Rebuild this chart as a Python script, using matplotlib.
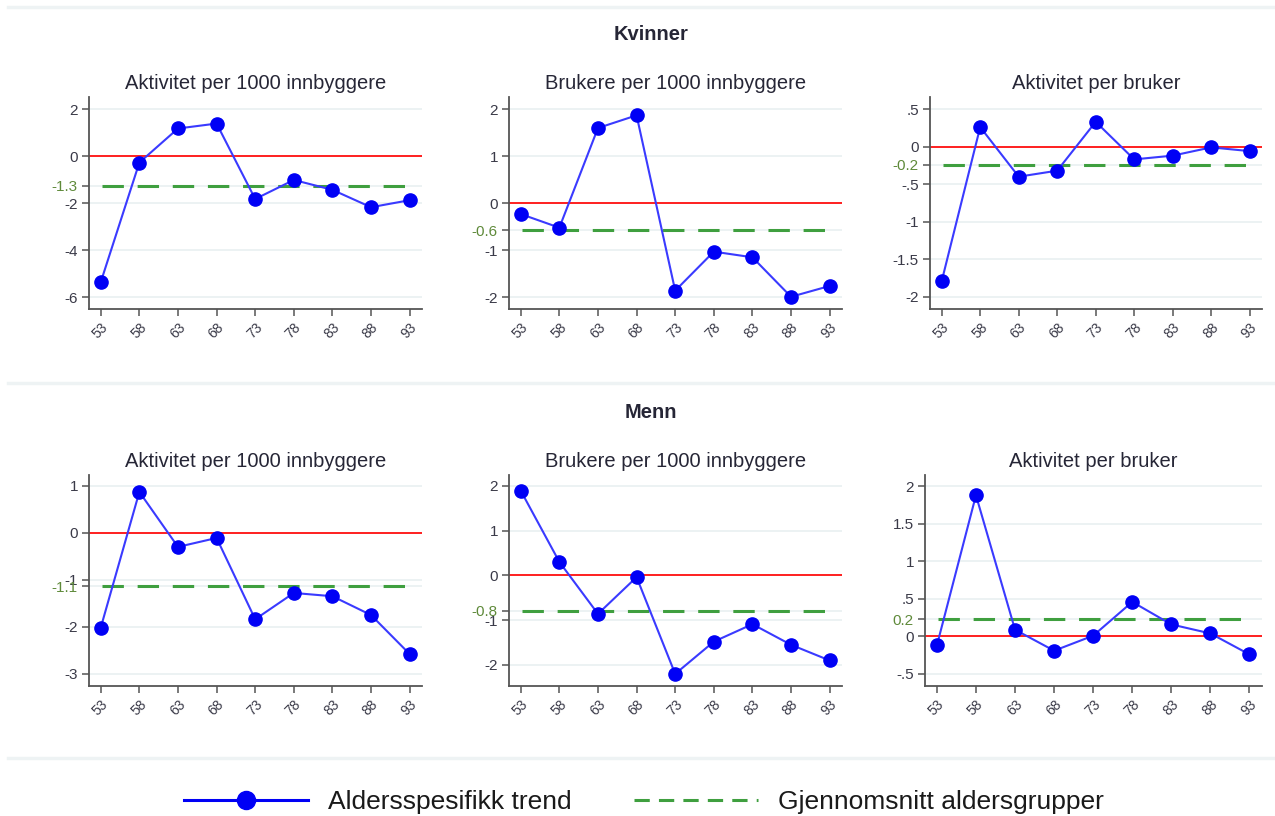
import matplotlib
matplotlib.use("Agg")
import matplotlib.pyplot as plt
from matplotlib.lines import Line2D

plt.rcParams['font.family'] = ['Liberation Sans', 'DejaVu Sans']

ages = [53, 58, 63, 68, 73, 78, 83, 88, 93]
age_labels = [str(a) for a in ages]

panel_titles = ["Aktivitet per 1000 innbyggere", "Brukere per 1000 innbyggere", "Aktivitet per bruker"]
group_titles = ["Kvinner", "Menn"]

# Kvinner
k_akt_1000 = [-5.36, -0.27, 1.18, 1.39, -1.82, -1.01, -1.43, -2.17, -1.87]
k_bru_1000 = [-0.23, -0.52, 1.60, 1.87, -1.86, -1.03, -1.15, -1.99, -1.76]
k_akt_bruker = [-1.79, 0.26, -0.40, -0.32, 0.33, -0.17, -0.12, -0.01, -0.06]
k_means = [-1.26, -0.57, -0.24]

# Menn
m_akt_1000 = [-2.02, 0.87, -0.30, -0.11, -1.84, -1.28, -1.35, -1.75, -2.58]
m_bru_1000 = [1.89, 0.30, -0.86, -0.04, -2.20, -1.48, -1.09, -1.55, -1.90]
m_akt_bruker = [-0.12, 1.88, 0.09, -0.19, 0.01, 0.46, 0.16, 0.04, -0.24]
m_means = [-1.14, -0.79, 0.23]

series = [[k_akt_1000, k_bru_1000, k_akt_bruker],
          [m_akt_1000, m_bru_1000, m_akt_bruker]]
means = [k_means, m_means]

yticks = [[[-6, -4, -2, 0, 2], [-2, -1, 0, 1, 2], [-2, -1.5, -1, -0.5, 0, 0.5]],
          [[-3, -2, -1, 0, 1], [-2, -1, 0, 1, 2], [-0.5, 0, 0.5, 1, 1.5, 2]]]
ylims = [[(-6.5, 2.52), (-2.25, 2.26), (-2.16, 0.66)],
         [(-3.26, 1.23), (-2.47, 2.24), (-0.66, 2.15)]]

W, H = 1275, 816
fig = plt.figure(figsize=(W / 100, H / 100), dpi=100)
fig.patch.set_facecolor("white")

# axes boxes in pixels: (left, right, top, bottom)
col_lr = [[(89, 422), (509, 842), (930, 1262)],
          [(89, 422), (509, 842), (925, 1262)]]
row_tb = [(97, 309), (475, 686)]

txt_col = "#262636"
tick_col = "#3a3a48"
grid_col = "#eaf1f2"
mean_col = "#5f8a3a"


def fmt(v):
    if float(v).is_integer():
        return str(int(v))
    s = f"{v:g}"
    return s.replace("0.", ".") if abs(v) < 1 else s


for r in range(2):
    top, bot = row_tb[r]
    for c in range(3):
        left, right = col_lr[r][c]
        ax = fig.add_axes([left / W, 1 - bot / H, (right - left) / W, (bot - top) / H])
        vals = series[r][c]
        mval = means[r][c]
        ticks = yticks[r][c]

        for t in ticks + [mval]:
            ax.axhline(t, color=grid_col, lw=1.3, zorder=0)
        ax.axhline(0, color="#ff2020", lw=1.4, zorder=2)
        ax.axhline(mval, xmin=0.04, xmax=0.96, color="#3f9f3f", lw=2.2,
                   dashes=(7, 4.5), zorder=2)
        ax.plot(ages, vals, color="#3a3aff", lw=1.5, zorder=3)
        ax.plot(ages, vals, "o", color="#0000f5", ms=9.5, zorder=4)

        ax.set_xlim(51.48, 94.6)
        ax.set_ylim(*ylims[r][c])
        ax.set_yticks(ticks + [mval])
        ax.set_yticklabels([fmt(t) for t in ticks] + [f"{mval:.1f}"])
        ax.set_xticks(ages)
        ax.set_xticklabels(age_labels, rotation=45, ha="right", va="top",
                           rotation_mode="anchor")

        ax.tick_params(axis="y", labelsize=11, colors="#555555", labelcolor=tick_col,
                       length=5, width=1.1, direction="out", pad=3)
        ax.tick_params(axis="x", labelsize=10, colors="#555555", labelcolor=tick_col,
                       length=5, width=1.1, direction="out", pad=3)
        for lab in ax.get_yticklabels()[-1:]:
            lab.set_color(mean_col)
        for s in ["top", "right"]:
            ax.spines[s].set_visible(False)
        for s in ["left", "bottom"]:
            ax.spines[s].set_color("#555555")
            ax.spines[s].set_linewidth(1.3)
        ax.set_facecolor("white")
        ax.set_title(panel_titles[c], fontsize=14.5, color=txt_col, pad=6)

# group headings
fig.text(651 / W, 1 - 35 / H, group_titles[0], ha="center", va="center",
         fontsize=14.5, fontweight="bold", color=txt_col)
fig.text(651 / W, 1 - 412 / H, group_titles[1], ha="center", va="center",
         fontsize=14.5, fontweight="bold", color=txt_col)

# separator bands
for y in [7, 383, 758]:
    fig.add_artist(Line2D([8 / W, 1.0], [1 - y / H, 1 - y / H], color="#eef3f4",
                          lw=2.5, transform=fig.transFigure))

handles = [Line2D([], [], color="#0000f5", lw=2.2, marker="o", ms=13),
           Line2D([], [], color="#3f9f3f", lw=2.2, dashes=(5, 3))]
fig.legend(handles, ["Aldersspesifikk trend", "Gjennomsnitt aldersgrupper"],
           loc="center", bbox_to_anchor=(644 / W, 1 - 802 / H), ncol=2,
           frameon=False, fontsize=19, handlelength=4.7, handletextpad=0.76,
           columnspacing=2.35, labelcolor="#1a1a1a")

fig.savefig("out.png", dpi=100, facecolor="white")
